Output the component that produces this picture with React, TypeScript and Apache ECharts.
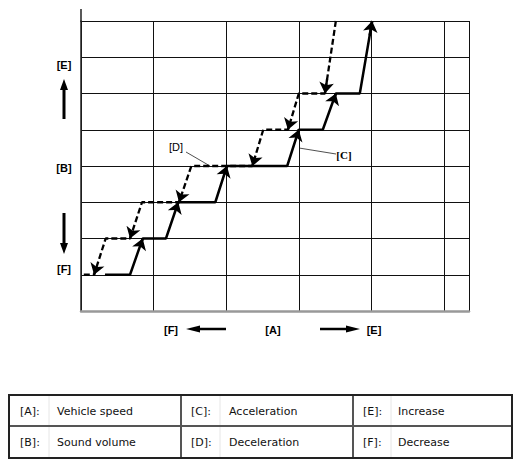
import React, { useEffect, useRef } from "react";
import * as echarts from "echarts";

// Sound volume level (y) vs vehicle speed (x)
const accelX = [0.33, 0.675, 0.85, 1.17, 1.34, 1.85, 2.01, 2.84, 3.0, 3.33, 3.51, 3.84, 4.01];
const accelY = [1, 1, 2, 2, 3, 3, 4, 4, 5, 5, 6, 6, 8];
const decelX = [3.51, 3.36, 3.0, 2.85, 2.51, 2.36, 1.52, 1.35, 0.84, 0.675, 0.34, 0.18, 0];
const decelY = [8, 6, 6, 5, 5, 4, 4, 3, 3, 2, 2, 1, 1];

const xMax = 5.344;
const yMax = 8;

const tableRows = [
  [["[A]:", "Vehicle speed"], ["[C]:", "Acceleration"], ["[E]:", "Increase"]],
  [["[B]:", "Sound volume"], ["[D]:", "Deceleration"], ["[F]:", "Decrease"]],
];

function pts(xs: number[], ys: number[]) {
  return xs.map((x, i) => [x, ys[i]]);
}

function arrowTails(xs: number[], ys: number[]) {
  const segs: any[] = [];
  for (let i = 0; i < xs.length - 1; i++) {
    if (ys[i] !== ys[i + 1]) {
      const x1 = xs[i], y1 = ys[i], x2 = xs[i + 1], y2 = ys[i + 1];
      const f = 0.8;
      segs.push({ coords: [[x1 + (x2 - x1) * f, y1 + (y2 - y1) * f], [x2, y2]] });
    }
  }
  return segs;
}

const FONT_B = "'Liberation Sans', Arial, sans-serif";
const FONT_T = "'DejaVu Sans', Verdana, sans-serif";

function vArrow(x: number, y1: number, y2: number, up: boolean): any[] {
  const head = 11;
  const hw = 4;
  if (up) {
    return [
      { type: "line", shape: { x1: x, y1: y1 + head - 1, x2: x, y2: y2 }, style: { stroke: "#000", lineWidth: 3 } },
      { type: "polygon", shape: { points: [[x, y1], [x - hw, y1 + head], [x + hw, y1 + head]] }, style: { fill: "#000" } },
    ];
  }
  return [
    { type: "line", shape: { x1: x, y1: y1, x2: x, y2: y2 - head + 1 }, style: { stroke: "#000", lineWidth: 3 } },
    { type: "polygon", shape: { points: [[x, y2], [x - hw, y2 - head], [x + hw, y2 - head]] }, style: { fill: "#000" } },
  ];
}

function hArrow(x1: number, x2: number, y: number, left: boolean): any[] {
  const head = 14;
  const hw = 3.5;
  if (left) {
    return [
      { type: "line", shape: { x1: x1 + head - 1, y1: y, x2: x2, y2: y }, style: { stroke: "#000", lineWidth: 2.5 } },
      { type: "polygon", shape: { points: [[x1, y], [x1 + head, y - hw], [x1 + head, y + hw]] }, style: { fill: "#000" } },
    ];
  }
  return [
    { type: "line", shape: { x1: x1, y1: y, x2: x2 - head + 1, y2: y }, style: { stroke: "#000", lineWidth: 2.5 } },
    { type: "polygon", shape: { points: [[x2, y], [x2 - head, y - hw], [x2 - head, y + hw]] }, style: { fill: "#000" } },
  ];
}

function label(text: string, x: number, y: number, opts: any = {}): any {
  return {
    type: "text",
    x,
    y,
    style: {
      text,
      fill: opts.fill || "#000",
      font: opts.font || `bold 11px ${FONT_B}`,
      align: opts.align || "center",
      verticalAlign: "middle",
    },
  };
}

function tableGraphics(): any[] {
  const g: any[] = [];
  const left = 9, right = 512, top = 395, bottom = 458, mid = 426;
  const cols = [9, 181, 353];
  const inner = [49, 220, 391];
  const textX = [57, 229, 398];
  const keyX = [20, 191, 363];
  const rowY = [411, 442];
  inner.forEach((x) => {
    g.push({ type: "line", shape: { x1: x, y1: top, x2: x, y2: bottom }, style: { stroke: "#e6e6e6", lineWidth: 1 } });
  });
  g.push({ type: "line", shape: { x1: left, y1: mid, x2: right, y2: mid }, style: { stroke: "#555", lineWidth: 2 } });
  cols.slice(1).forEach((x) => {
    g.push({ type: "line", shape: { x1: x, y1: top, x2: x, y2: bottom }, style: { stroke: "#555", lineWidth: 2 } });
  });
  g.push({ type: "rect", shape: { x: left, y: top, width: right - left, height: bottom - top }, style: { fill: "none", stroke: "#222", lineWidth: 2 } });
  tableRows.forEach((row, r) => {
    row.forEach((cell, c) => {
      g.push(label(cell[0], keyX[c], rowY[r], { font: `11px ${FONT_T}`, align: "left", fill: "#111" }));
      g.push(label(cell[1], textX[c], rowY[r], { font: `11px ${FONT_T}`, align: "left", fill: "#111" }));
    });
  });
  return g;
}

export default function App() {
  const ref = useRef<HTMLDivElement>(null);
  useEffect(() => {
    if (!ref.current) return;
    const chart = echarts.init(ref.current, null, { renderer: "svg" });
    const graphic: any[] = [
      { type: "line", shape: { x1: 81, y1: 9, x2: 81, y2: 22 }, style: { stroke: "#222", lineWidth: 1.5 } },
      label("[E]", 64, 65),
      ...vArrow(64, 79, 119, true),
      label("[B]", 64, 168),
      ...vArrow(64, 213, 254, false),
      label("[F]", 64, 269),
      label("[F]", 171, 330),
      ...hArrow(186, 226, 329, true),
      label("[A]", 273, 330),
      ...hArrow(320, 360, 329, false),
      label("[E]", 374, 330),
      label("[D]", 176, 147, { font: `11px ${FONT_B}` }),
      { type: "line", shape: { x1: 186, y1: 152, x2: 210, y2: 166 }, style: { stroke: "#222", lineWidth: 0.8 } },
      label("[C]", 344, 155, { font: `bold 11px 'Liberation Serif', serif` }),
      { type: "line", shape: { x1: 299, y1: 148, x2: 336, y2: 154 }, style: { stroke: "#222", lineWidth: 0.8 } },
      ...tableGraphics(),
    ];
    chart.setOption({
      animation: false,
      backgroundColor: "#fff",
      grid: { left: 81, top: 21, right: 58, bottom: 157 },
      xAxis: {
        type: "value",
        min: 0,
        max: xMax,
        interval: 1,
        axisLabel: { show: false },
        axisTick: { show: false },
        axisLine: { show: true, lineStyle: { color: "#999", width: 2.5 } },
        splitLine: { show: true, lineStyle: { color: "#111", width: 1 } },
      },
      yAxis: {
        type: "value",
        min: 0,
        max: yMax,
        interval: 1,
        axisLabel: { show: false },
        axisTick: { show: false },
        axisLine: { show: true, lineStyle: { color: "#222", width: 1.5 } },
        splitLine: { show: true, lineStyle: { color: "#111", width: 1 } },
      },
      series: [
        {
          name: "Deceleration",
          type: "line",
          data: pts(decelX, decelY),
          showSymbol: false,
          z: 3,
          lineStyle: { color: "#000", width: 2.3, type: [6, 3] },
        },
        {
          name: "Acceleration",
          type: "line",
          data: pts(accelX, accelY),
          showSymbol: false,
          z: 4,
          lineStyle: { color: "#000", width: 2.5 },
        },
        {
          type: "lines",
          coordinateSystem: "cartesian2d",
          data: arrowTails(decelX, decelY),
          symbol: ["none", "arrow"],
          symbolSize: 11,
          z: 5,
          lineStyle: { color: "#000", width: 2.3, opacity: 1 },
        },
        {
          type: "lines",
          coordinateSystem: "cartesian2d",
          data: arrowTails(accelX, accelY),
          symbol: ["none", "arrow"],
          symbolSize: 11,
          z: 5,
          lineStyle: { color: "#000", width: 2.5, opacity: 1 },
        },
      ],
      graphic,
    });
    return () => chart.dispose();
  }, []);
  return (
    <div
      ref={ref}
      style={{ position: "fixed", left: 0, top: 0, width: 527, height: 468 }}
    />
  );
}
